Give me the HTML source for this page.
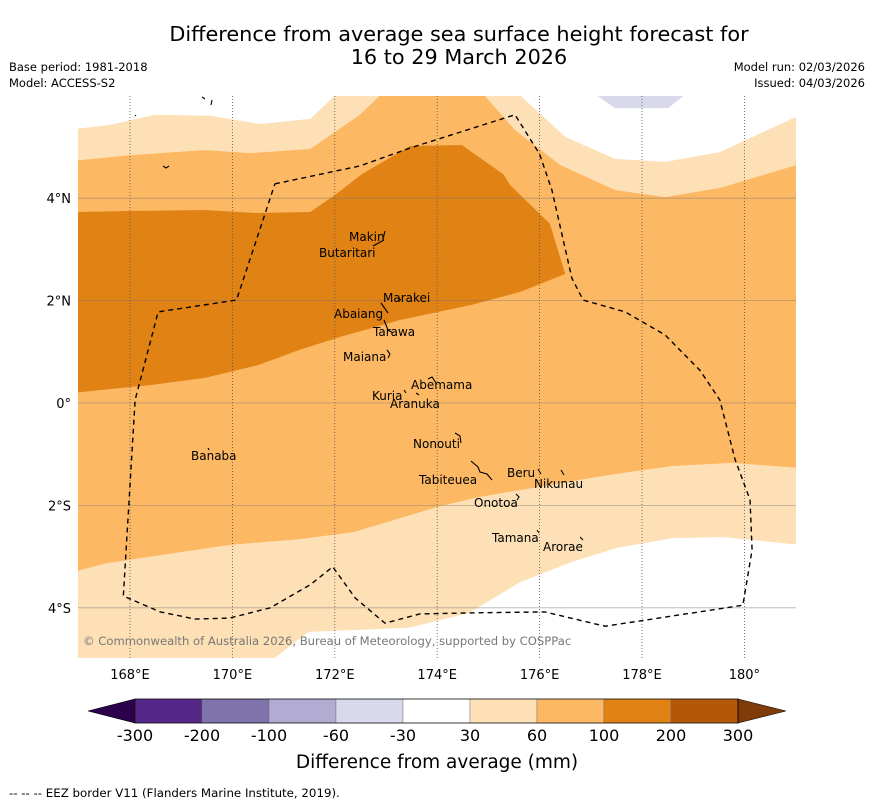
<!DOCTYPE html>
<html><head><meta charset="utf-8">
<style>
body{margin:0;background:#fff;width:873px;height:804px;overflow:hidden;font-family:"DejaVu Sans","Liberation Sans",sans-serif;}
svg{display:block}
</style></head>
<body>
<svg id="chart" width="873" height="804" viewBox="0 0 873 804" xmlns="http://www.w3.org/2000/svg">
<text x="459" y="41" text-anchor="middle" font-size="20.8">Difference from average sea surface height forecast for</text>
<text x="459" y="64" text-anchor="middle" font-size="20.8">16 to 29 March 2026</text>
<text x="9" y="71" font-size="11.5">Base period: 1981-2018</text>
<text x="9" y="87" font-size="11.5">Model: ACCESS-S2</text>
<text x="865" y="71" font-size="11.5" text-anchor="end">Model run: 02/03/2026</text>
<text x="865" y="87" font-size="11.5" text-anchor="end">Issued: 04/03/2026</text>
<defs><clipPath id="mapclip"><rect x="78" y="96" width="718" height="562"/></clipPath></defs>
<g id="map" clip-path="url(#mapclip)"></g>
<g id="axes"></g>
<g id="cbar"></g>
<text x="437" y="768" text-anchor="middle" font-size="18.5">Difference from average (mm)</text>
<text x="9" y="797" font-size="11.8">--  --  -- EEZ border V11 (Flanders Marine Institute, 2019).</text>
</svg>
<script>
const NS='http://www.w3.org/2000/svg';
const lonTicks=[168,170,172,174,176,178,180];
const lonTickLabels=['168°E','170°E','172°E','174°E','176°E','178°E','180°'];
const latTicks=[4,2,0,-2,-4];
const latTickLabels=['4°N','2°N','0°','2°S','4°S'];
const cbarLevels=['-300','-200','-100','-60','-30','30','60','100','200','300'];
const cbarColors=['#542788','#8073ac','#b2abd2','#d8daeb','#ffffff','#fee0b6','#fdb863','#e08214','#b35806'];
// contour regions in [lon, lat]
const topLightLeft=[[166.9,4.73],[168,4.84],[168.59,4.88],[169.46,4.94],[170.34,4.88],[171.52,4.96],[172.49,5.63],[172.98,6.1],[166.9,6.1]];
const topLightRight=[[174.84,6.1],[175.52,5.33],[176.4,4.65],[177.47,4.16],[178.45,4.02],[179.52,4.2],[181.1,4.67],[181.1,6.1]];
const topWhiteLeft=[[166.9,5.35],[167.6,5.43],[168.49,5.63],[169.56,5.61],[170.54,5.45],[171.52,5.55],[172.1,6.1],[166.9,6.1]];
const topWhiteRight=[[175.52,6.1],[176.5,5.2],[177.47,4.77],[178.45,4.71],[179.52,4.9],[181.1,5.63],[181.1,6.1]];
const topPurple=[[176.98,6.1],[177.47,5.76],[178.51,5.76],[178.94,6.1]];
const darkBlob=[[166.9,3.73],[168,3.75],[169.46,3.77],[170.44,3.71],[171.52,3.73],[172,4.06],[172.53,4.47],[173.47,5.02],[174.48,5.04],[175.29,4.47],[175.42,4.26],[176.2,3.5],[176.5,2.52],[175.62,2.17],[174.64,1.91],[173.27,1.62],[172.1,1.29],[171.32,1.04],[170.5,0.74],[169.46,0.49],[168.39,0.35],[166.9,0.2]];
const bottomLight=[[166.9,-3.3],[167.53,-3.13],[169.95,-2.77],[171.3,-2.66],[172.38,-2.52],[174.0,-2.03],[174.8,-1.84],[175.97,-1.64],[177.32,-1.41],[178.59,-1.23],[179.76,-1.17],[181.1,-1.27],[181.1,-5.1],[166.9,-5.1]];
const bottomWhite=[[170.68,-5.1],[171.48,-4.47],[173.45,-4.39],[174.62,-4.1],[175.62,-3.5],[176.61,-3.11],[177.51,-2.83],[178.59,-2.64],[179.58,-2.62],[180.48,-2.71],[181.1,-2.77],[181.1,-5.1]];
const eez=[[170.83,4.28],[172.49,4.63],[173.47,4.98],[175.52,5.63],[176.0,4.86],[176.24,4.16],[176.63,2.44],[176.85,2.01],[177.67,1.78],[178.45,1.33],[179.13,0.64],[179.52,0.06],[179.82,-1.11],[180.11,-1.89],[180.15,-2.87],[179.97,-3.95],[177.28,-4.36],[176.1,-4.08],[174.64,-4.1],[173.66,-4.12],[172.98,-4.3],[172.4,-3.81],[171.96,-3.2],[171.52,-3.55],[170.74,-4.0],[169.95,-4.2],[169.27,-4.22],[168.59,-4.08],[167.87,-3.77],[168.1,0.06],[168.55,1.78],[170.08,2.01],[170.83,4.28]];
const xs=lon=>130+(lon-168)*51.2;
const ys=lat=>403-lat*51.2;
const map=document.getElementById('map');
function el(tag,attrs,parent){const e=document.createElementNS(NS,tag);for(const k in attrs)e.setAttribute(k,attrs[k]);parent.appendChild(e);return e;}
const bg=el('rect',{x:78,y:96,width:718,height:562,fill:'#fdb863'},map);


function poly(pts,fill,name){const p=el('polygon',{points:pts.map(q=>xs(q[0])+','+ys(q[1])).join(' '),fill:fill},map);

}
poly(topLightLeft,'#fee0b6','band-30-60-north-west');
poly(topLightRight,'#fee0b6','band-30-60-north-east');
poly(topWhiteLeft,'#ffffff','band-neutral-north-west');
poly(topWhiteRight,'#ffffff','band-neutral-north-east');
poly(topPurple,'#d8daeb','band-minus30-60-north');
poly(darkBlob,'#e08214','band-100-200');
poly(bottomLight,'#fee0b6','band-30-60-south');
poly(bottomWhite,'#ffffff','band-neutral-south');
// grid
lonTicks.forEach(l=>{const g=el('line',{x1:xs(l),x2:xs(l),y1:96,y2:658,stroke:'#555','stroke-width':0.8,'stroke-dasharray':'1,2'},map);

});
latTicks.forEach(l=>{const g=el('line',{x1:78,x2:796,y1:ys(l),y2:ys(l),stroke:'#777','stroke-width':0.8,opacity:0.55},map);

});
const ez=el('polyline',{points:eez.map(q=>xs(q[0])+','+ys(q[1])).join(' '),fill:'none',stroke:'#000','stroke-width':1.4,'stroke-dasharray':'5,4'},map);


// islands (decorative strokes)
const isl=['M385,231 L383,239','M373,246 L384,240','M398,298 L401,300','M381,303 L388,313','M384,320 L388,330 L393,333','M387,350 L390,354 L388,358','M428,379 L432,377 L436,383','M404,390 L406,393','M416,393 L419,395','M455,433 L460,436 L461,443','M471,461 L478,467 L480,472 L487,474 L492,480','M538,469 L541,474','M561,470 L564,475','M516,494 L519,497 L517,500','M537,530 L539,533','M580,537 L583,540','M208,448 L209,450','M202,97 L205,99','M212,100 L211,105','M135,115 L136,116','M163,166 L166,168 L169,166'];
isl.forEach(d=>{const p=el('path',{d:d,fill:'none',stroke:'#000','stroke-width':1.1},map);

});
const labels=[['Makin',349,241],['Butaritari',319,257],['Marakei',383,302],['Abaiang',334,318],['Tarawa',373,336],['Maiana',343,361],['Abemama',411,389],['Kuria',372,400],['Aranuka',390,408],['Nonouti',413,448],['Banaba',191,460],['Tabiteuea',419,484],['Beru',507,477],['Nikunau',534,488],['Onotoa',474,507],['Tamana',492,542],['Arorae',543,551]];
labels.forEach(l=>{const t=el('text',{x:l[1],y:l[2],'font-size':12,fill:'#000'},map);t.textContent=l[0];

});
const cp=el('text',{x:83,y:645,'font-size':11.6,fill:'#777'},map);cp.textContent='© Commonwealth of Australia 2026, Bureau of Meteorology, supported by COSPPac';


// axes labels
const axes=document.getElementById('axes');
lonTicks.forEach((l,i)=>{const t=el('text',{x:xs(l),y:679,'text-anchor':'middle','font-size':13},axes);t.textContent=lonTickLabels[i];

});
latTicks.forEach((l,i)=>{const t=el('text',{x:71,y:ys(l)+5,'text-anchor':'end','font-size':13},axes);t.textContent=latTickLabels[i];

});
// colorbar
const cb=document.getElementById('cbar');
const cx0=135,cw=67.0,cy=699,ch=24;
const lt=el('polygon',{points:`88,711 ${cx0},${cy} ${cx0},${cy+ch}`,fill:'#2d004b',stroke:'#000','stroke-width':0.6},cb);


cbarColors.forEach((c,i)=>{const r=el('rect',{x:cx0+i*cw,y:cy,width:cw,height:ch,fill:c,stroke:'#666','stroke-width':0.4},cb);

});
const xe=cx0+cbarColors.length*cw;
const rt=el('polygon',{points:`${xe},${cy} 786,711 ${xe},${cy+ch}`,fill:'#7f3b08',stroke:'#000','stroke-width':0.6},cb);


const ol=el('rect',{x:cx0,y:cy,width:xe-cx0,height:ch,fill:'none',stroke:'#000','stroke-width':0.7},cb);


cbarLevels.forEach((s,i)=>{const t=el('text',{x:cx0+i*cw,y:741,'text-anchor':'middle','font-size':16},cb);t.textContent=s;

});
</script>
</body></html>
